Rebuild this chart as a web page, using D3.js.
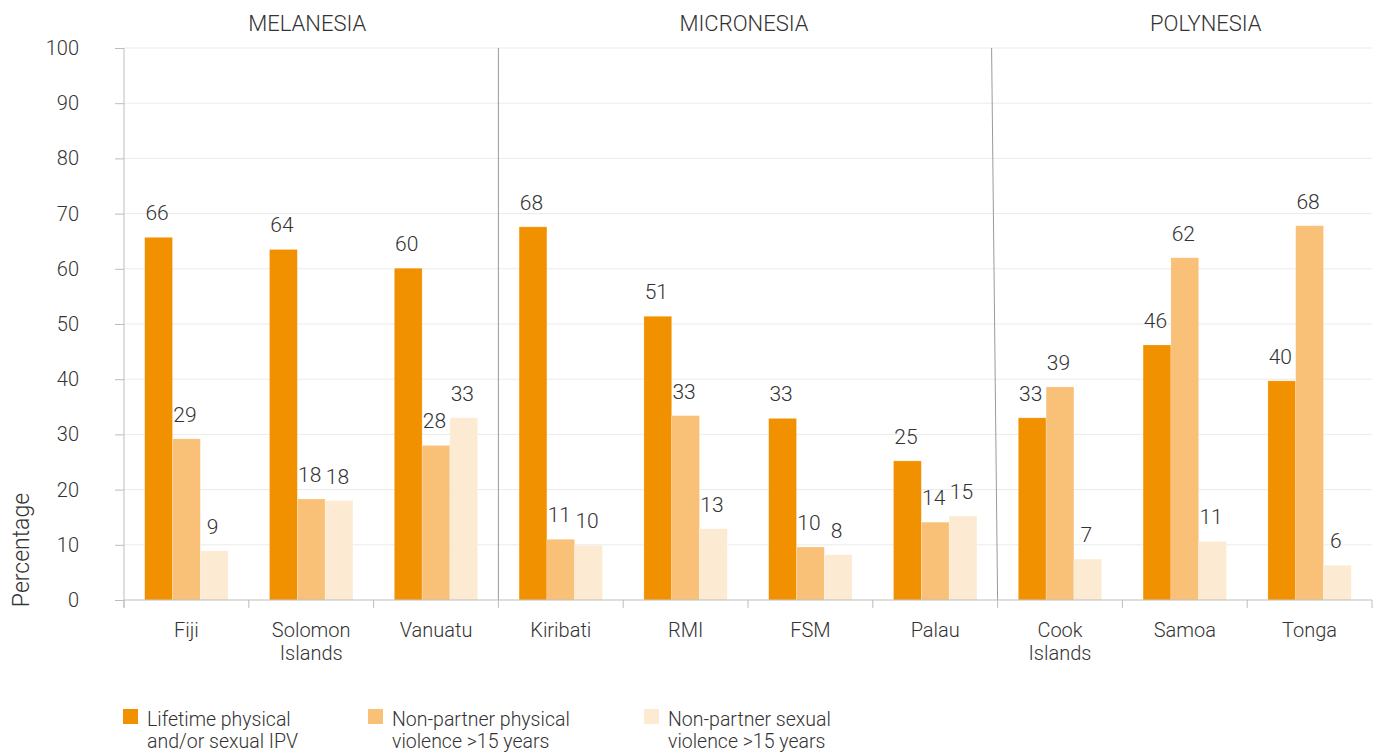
<!DOCTYPE html>
<html>
<head>
<meta charset="utf-8">
<script src="https://cdn.jsdelivr.net/npm/d3@7"></script>
<style>
  html, body { margin: 0; padding: 0; background: #fff; }
  svg { display: block; font-family: Roboto, "Noto Sans", sans-serif; font-weight: 300; }
</style>
</head>
<body>
<svg id="chart" width="1380" height="753"></svg>
<script>
// ---- Data ----
const countries = ["Fiji", "Solomon Islands", "Vanuatu", "Kiribati", "RMI", "FSM", "Palau", "Cook Islands", "Samoa", "Tonga"];
const countryLines = [["Fiji"], ["Solomon", "Islands"], ["Vanuatu"], ["Kiribati"], ["RMI"], ["FSM"], ["Palau"], ["Cook", "Islands"], ["Samoa"], ["Tonga"]];
const seriesNames = ["Lifetime physical and/or sexual IPV", "Non-partner physical violence >15 years", "Non-partner sexual violence >15 years"];
const seriesLegendLines = [["Lifetime physical", "and/or sexual IPV"], ["Non-partner physical", "violence >15 years"], ["Non-partner sexual", "violence >15 years"]];
const lifetimeIPV      = [65.7, 63.5, 60.1, 67.6, 51.4, 32.9, 25.2, 33.0, 46.2, 39.7];
const nonPartnerPhys   = [29.2, 18.3, 28.0, 11.0, 33.4,  9.6, 14.1, 38.6, 62.0, 67.8];
const nonPartnerSexual = [ 8.9, 18.0, 33.0,  9.9, 12.9,  8.2, 15.2,  7.4, 10.6,  6.3];
const regions = ["MELANESIA", "MICRONESIA", "POLYNESIA"];
const regionFirst = ["Fiji", "Kiribati", "Cook Islands"];
const regionLast = ["Vanuatu", "Palau", "Tonga"];
const yTicks = [0, 10, 20, 30, 40, 50, 60, 70, 80, 90, 100];
const yLabel = "Percentage";
const colors = ["#f29100", "#f9c077", "#fdead2"];

(function () {
const seriesValues = [lifetimeIPV, nonPartnerPhys, nonPartnerSexual];
const table = countries.map((c, i) => ({ country: c, values: seriesValues.map((s, k) => ({ key: k, value: s[i] })) }));

// ---- Layout ----
const svg = d3.select("#chart");
const pL = 124, pR = 1372, pT = 48, pB = 600;
const textColor = "#333";

const x0 = d3.scaleBand().domain(countries).range([pL, pR]).padding(0);
const x1 = d3.scaleBand().domain([0, 1, 2]).range([0, x0.bandwidth()]).paddingInner(0).paddingOuter(0.745);
const y = d3.scaleLinear().domain([0, 100]).range([pB, pT]);

// gridlines
svg.append("g").selectAll("line").data(yTicks.filter(d => d > 0)).join("line")
  .attr("x1", pL).attr("x2", pR)
  .attr("y1", d => y(d)).attr("y2", d => y(d))
  .attr("stroke", "#ebebeb").attr("stroke-width", 1);

// y axis
const yAxis = svg.append("g").attr("transform", `translate(${pL},0)`)
  .call(d3.axisLeft(y).tickValues(yTicks).tickSize(9).tickPadding(36));
yAxis.select(".domain").attr("stroke", "#bdbdbd").attr("d", `M0,${pT}V${pB + 8}`);
yAxis.selectAll(".tick line").attr("stroke", "#bdbdbd");
yAxis.selectAll(".tick text").attr("fill", textColor).style("font-size", "20px")
  .style("font-family", "Roboto, sans-serif").style("font-weight", 300);

// y label
svg.append("text")
  .attr("transform", `translate(29,550) rotate(-90)`)
  .attr("text-anchor", "middle").attr("fill", textColor).style("font-size", "23px")
  .text(yLabel);

// region separators
regionFirst.slice(1).forEach((c, i) => {
  const xb = x0(c);
  const slant = i === 1 ? 6 : 0;
  svg.append("line").attr("x1", xb - slant).attr("x2", xb).attr("y1", pT).attr("y2", pB)
    .attr("stroke", "#9a9a9a").attr("stroke-width", 1);
});

// bars
const groups = svg.append("g").selectAll("g").data(table).join("g")
  .attr("transform", d => `translate(${x0(d.country)},0)`);
groups.selectAll("rect").data(d => d.values).join("rect")
  .attr("x", d => x1(d.key)).attr("width", x1.bandwidth())
  .attr("y", d => y(d.value)).attr("height", d => y(0) - y(d.value))
  .attr("fill", d => colors[d.key])
  .attr("stroke", "#fff").attr("stroke-opacity", 0.35).attr("stroke-width", 0.6);
groups.selectAll("text").data(d => d.values).join("text")
  .attr("x", d => x1(d.key) + x1.bandwidth() / 2 - 1.5)
  .attr("y", d => y(d.value) - 17)
  .attr("text-anchor", "middle").attr("fill", textColor).style("font-size", "21px")
  .text(d => Math.round(d.value));

// x axis
svg.append("line").attr("x1", pL).attr("x2", pR).attr("y1", pB).attr("y2", pB)
  .attr("stroke", "#bdbdbd").attr("stroke-width", 1);
const bounds = countries.map(c => x0(c)).concat([pR]);
svg.append("g").selectAll("line").data(bounds).join("line")
  .attr("x1", d => d).attr("x2", d => d).attr("y1", pB).attr("y2", pB + 8)
  .attr("stroke", "#bdbdbd").attr("stroke-width", 1);
const xl = svg.append("g").selectAll("text").data(countries).join("text")
  .attr("x", d => x0(d) + x0.bandwidth() / 2)
  .attr("y", 637)
  .attr("text-anchor", "middle").attr("fill", textColor).style("font-size", "20px");
xl.each(function(d, i) {
  d3.select(this).selectAll("tspan").data(countryLines[i]).join("tspan")
    .attr("x", x0(d) + x0.bandwidth() / 2)
    .attr("dy", (t, j) => j === 0 ? 0 : 23)
    .text(t => t);
});

// region labels
const regionDx = [-4, -4, 21];
regions.forEach((r, i) => {
  const cx = (x0(regionFirst[i]) + x0(regionLast[i]) + x0.bandwidth()) / 2 + regionDx[i];
  svg.append("text").attr("x", cx).attr("y", 31).attr("text-anchor", "middle")
    .attr("fill", textColor).style("font-size", "22px").text(r);
});

// legend
const legendX = [123, 368, 644];
seriesNames.forEach((s, i) => {
  const g = svg.append("g").attr("transform", `translate(${legendX[i]},709)`);
  g.append("rect").attr("width", 15).attr("height", 15).attr("fill", colors[i]);
  const t = g.append("text").attr("x", 24).attr("y", 17).attr("fill", textColor).style("font-size", "19.5px");
  t.selectAll("tspan").data(seriesLegendLines[i]).join("tspan")
    .attr("x", 24).attr("dy", (d, j) => j === 0 ? 0 : 22).text(d => d);
});
})();
</script>
</body>
</html>
